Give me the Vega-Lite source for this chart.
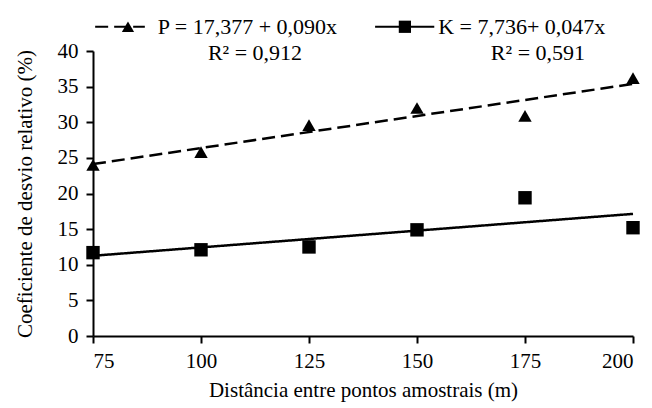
{
  "$schema": "https://vega.github.io/schema/vega-lite/v6.json",
  "width": 540,
  "height": 285,
  "autosize": {"type": "none"},
  "padding": {"left": 93, "top": 51, "right": 19, "bottom": 72},
  "background": "white",
  "datasets": {
    "points": [
      {"serie": "P", "dist": 75, "cv": 24.0},
      {"serie": "P", "dist": 100, "cv": 25.8},
      {"serie": "P", "dist": 125, "cv": 29.6},
      {"serie": "P", "dist": 150, "cv": 32.0},
      {"serie": "P", "dist": 175, "cv": 30.9},
      {"serie": "P", "dist": 200, "cv": 36.2},
      {"serie": "K", "dist": 75, "cv": 11.7},
      {"serie": "K", "dist": 100, "cv": 12.1},
      {"serie": "K", "dist": 125, "cv": 12.5},
      {"serie": "K", "dist": 150, "cv": 14.9},
      {"serie": "K", "dist": 175, "cv": 19.4},
      {"serie": "K", "dist": 200, "cv": 15.2}
    ],
    "trend": [
      {"serie": "P", "dist": 75, "cv": 24.13},
      {"serie": "P", "dist": 200, "cv": 35.38},
      {"serie": "K", "dist": 75, "cv": 11.26},
      {"serie": "K", "dist": 200, "cv": 17.14}
    ],
    "legendLine": [
      {"serie": "P", "dist": 75.5, "dist2": 87.0, "cv": 43.4},
      {"serie": "K", "dist": 140.3, "dist2": 154.0, "cv": 43.4}
    ],
    "legendSym": [
      {"serie": "P", "dist": 83.1, "cv": 43.4},
      {"serie": "K", "dist": 147.2, "cv": 43.4}
    ],
    "legendText": [
      {"dist": 90.0, "cv": 43.4, "align": "left", "label": "P = 17,377 + 0,090x"},
      {"dist": 112.5, "cv": 39.7, "align": "center", "label": "R² = 0,912"},
      {"dist": 154.9, "cv": 43.4, "align": "left", "label": "K =  7,736+ 0,047x"},
      {"dist": 178.0, "cv": 39.7, "align": "center", "label": "R² = 0,591"}
    ]
  },
  "encoding": {
    "x": {
      "field": "dist", "type": "quantitative",
      "scale": {"domain": [75, 200], "nice": false, "zero": false},
      "axis": {
        "values": [75, 100, 125, 150, 175, 200],
        "title": "Distância entre pontos amostrais (m)",
        "labelFont": "Times New Roman",
        "titleFont": "Times New Roman",
        "grid": false
      }
    },
    "y": {
      "field": "cv", "type": "quantitative",
      "scale": {"domain": [0, 40], "nice": false},
      "axis": {
        "values": [0, 5, 10, 15, 20, 25, 30, 35, 40],
        "labelOverlap": false,
        "title": "Coeficiente de desvio relativo (%)",
        "labelFont": "Times New Roman",
        "titleFont": "Times New Roman",
        "grid": false
      }
    }
  },
  "layer": [
    {
      "data": {"name": "trend"},
      "mark": {"type": "line", "color": "black", "strokeWidth": 2.5, "clip": false},
      "encoding": {
        "detail": {"field": "serie"},
        "strokeDash": {
          "field": "serie", "type": "nominal",
          "scale": {"domain": ["P", "K"], "range": [[13, 6], [1, 0]]},
          "legend": null
        }
      }
    },
    {
      "data": {"name": "points"},
      "mark": {"type": "point", "filled": true, "color": "black", "opacity": 1, "size": 180, "clip": false},
      "encoding": {
        "shape": {
          "field": "serie", "type": "nominal",
          "scale": {"domain": ["P", "K"], "range": ["triangle-up", "square"]},
          "legend": null
        }
      }
    },
    {
      "data": {"name": "legendLine"},
      "mark": {"type": "rule", "color": "black", "strokeWidth": 2, "clip": false},
      "encoding": {
        "x2": {"field": "dist2"},
        "strokeDash": {
          "field": "serie", "type": "nominal",
          "scale": {"domain": ["P", "K"], "range": [[7, 6], [1, 0]]},
          "legend": null
        }
      }
    },
    {
      "data": {"name": "legendSym"},
      "mark": {"type": "point", "filled": true, "color": "black", "opacity": 1, "size": 150, "clip": false},
      "encoding": {
        "shape": {
          "field": "serie", "type": "nominal",
          "scale": {"domain": ["P", "K"], "range": ["triangle-up", "square"]},
          "legend": null
        }
      }
    },
    {
      "data": {"name": "legendText"},
      "transform": [{"filter": "datum.align == 'left'"}],
      "mark": {"type": "text", "align": "left", "font": "Times New Roman", "fontSize": 22, "color": "black", "baseline": "middle", "clip": false},
      "encoding": {
        "text": {"field": "label"}
      }
    },
    {
      "data": {"name": "legendText"},
      "transform": [{"filter": "datum.align == 'center'"}],
      "mark": {"type": "text", "align": "center", "font": "Times New Roman", "fontSize": 22, "color": "black", "baseline": "middle", "clip": false},
      "encoding": {
        "text": {"field": "label"}
      }
    }
  ],
  "config": {
    "font": "Times New Roman",
    "view": {"stroke": null},
    "axis": {
      "domainColor": "black",
      "domainWidth": 2,
      "tickColor": "black",
      "tickWidth": 2,
      "tickSize": 7,
      "labelFontSize": 21,
      "labelColor": "black",
      "titleFontSize": 21,
      "titleFontWeight": "normal",
      "titleColor": "black"
    },
    "axisX": {"labelPadding": 7, "titlePadding": 8},
    "axisY": {"labelPadding": 8, "titlePadding": 22}
  }
}
